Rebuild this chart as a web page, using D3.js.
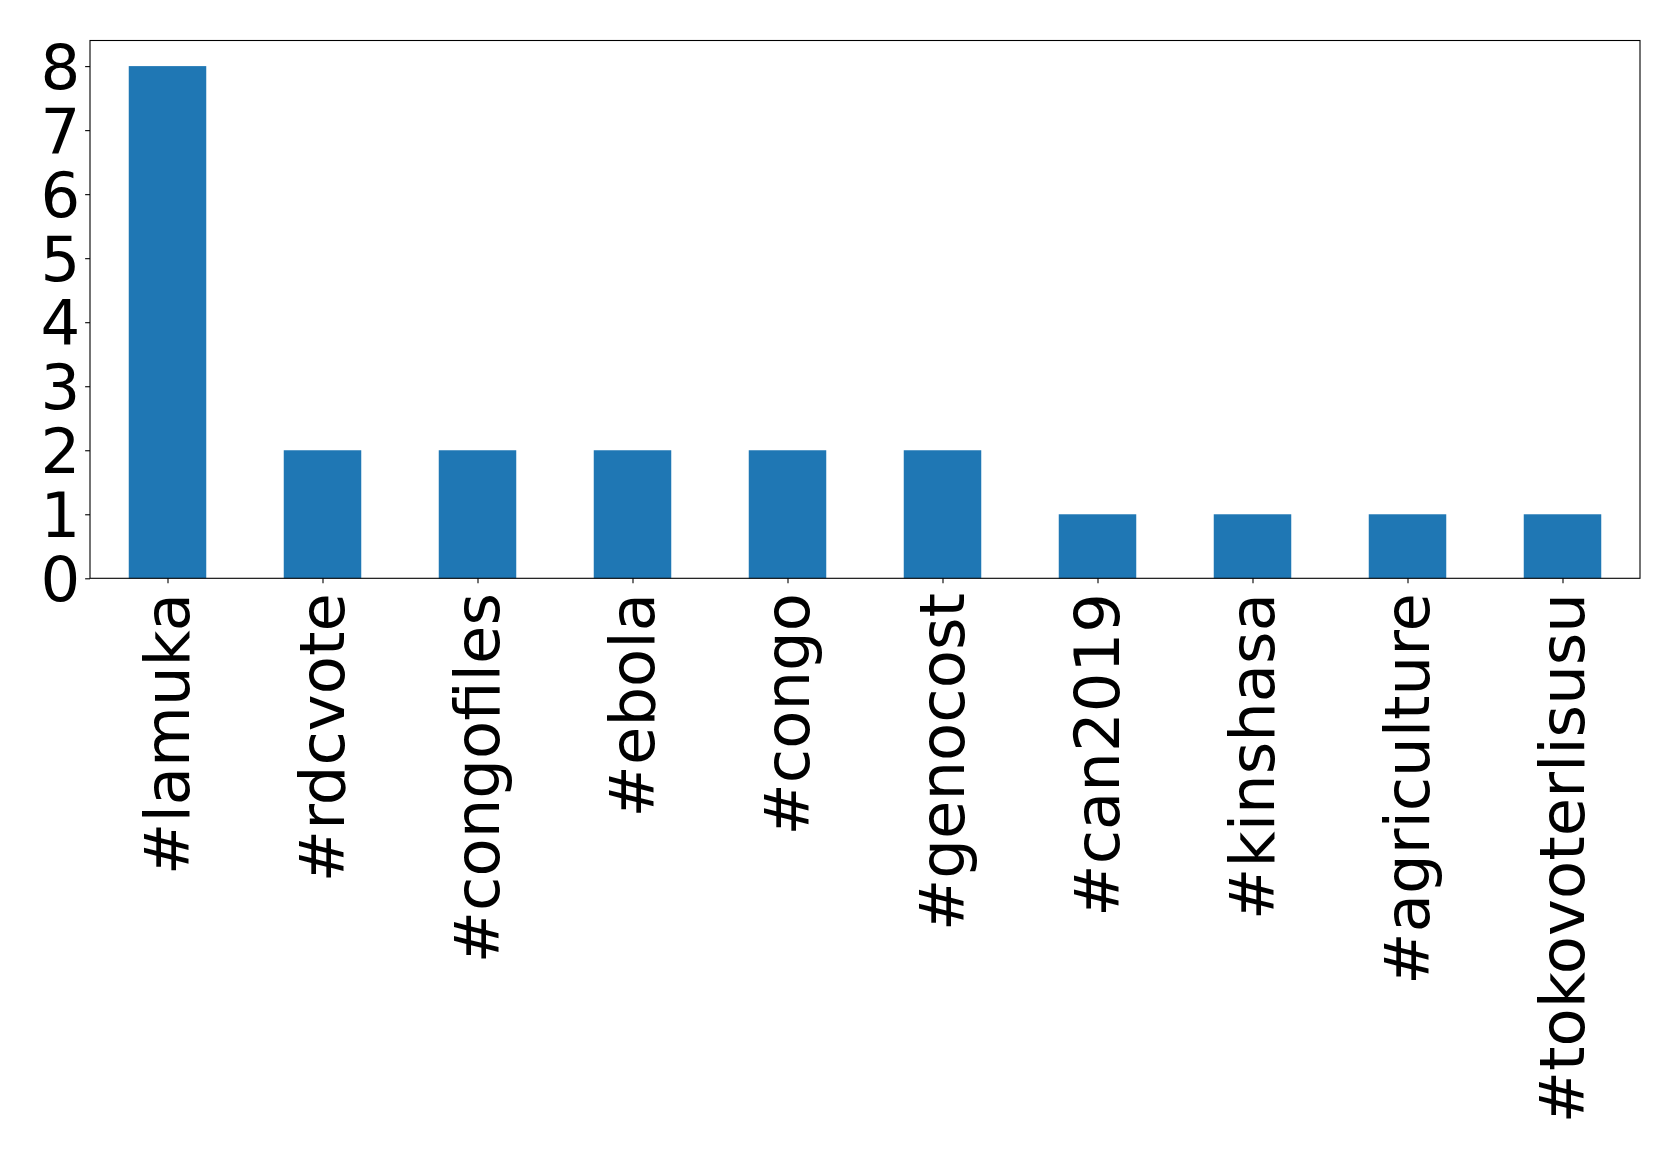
<!DOCTYPE html>
<html><head><meta charset="utf-8">
<script src="https://cdn.jsdelivr.net/npm/d3@7"></script>
<style>html,body{margin:0;padding:0;background:#fff;}</style>
</head><body>
<svg id="chart" width="1679" height="1158"></svg>
<script>
const categories = ["#lamuka","#rdcvote","#congofiles","#ebola","#congo","#genocost","#can2019","#kinshasa","#agriculture","#tokovoterlisusu"];
const counts = [8,2,2,2,2,2,1,1,1,1];
const yTicks = [0,1,2,3,4,5,6,7,8];

const W = 1679, H = 1158;
const m = {left: 90, right: 1640, top: 40.5, bottom: 578.3};
const fs = 62.5;
const tickLen = 4.86, pad = 4.86;

const svg = d3.select("#chart");
const n = categories.length;
const x = d3.scaleLinear().domain([-0.5, n - 0.5]).range([m.left, m.right]);
const y = d3.scaleLinear().domain([0, 8.4]).range([m.bottom, m.top]);

svg.append("g").selectAll("rect").data(counts).join("rect")
  .attr("x", (d,i) => x(i - 0.25))
  .attr("width", (d,i) => x(i + 0.25) - x(i - 0.25))
  .attr("y", d => y(d))
  .attr("height", d => y(0) - y(d))
  .attr("fill", "#1f77b4");

// frame
svg.append("rect").attr("x", m.left).attr("y", m.top)
  .attr("width", m.right - m.left).attr("height", m.bottom - m.top)
  .attr("fill", "none").attr("stroke", "#000").attr("stroke-width", 1.1);

// y axis
const yAxis = d3.axisLeft(y).tickValues(yTicks).tickFormat(d3.format("d"))
  .tickSize(tickLen).tickPadding(pad);
const gy = svg.append("g").attr("transform", `translate(${m.left},0)`).call(yAxis);
gy.select(".domain").remove();
gy.selectAll(".tick line").attr("stroke", "#000").attr("stroke-width", 1.1);
gy.selectAll(".tick text").attr("font-family", "DejaVu Sans").attr("font-size", fs)
  .attr("fill", "#000").attr("dy", "0.36em");

// x axis
const xAxis = d3.axisBottom(x).tickValues(d3.range(n)).tickFormat(i => categories[i])
  .tickSize(tickLen).tickPadding(pad);
const gx = svg.append("g").attr("transform", `translate(0,${m.bottom})`).call(xAxis);
gx.select(".domain").remove();
gx.selectAll(".tick line").attr("stroke", "#000").attr("stroke-width", 1.1);
gx.selectAll(".tick text").attr("font-family", "DejaVu Sans").attr("font-size", fs)
  .attr("fill", "#000")
  .attr("text-anchor", "end")
  .attr("transform", `translate(0,${tickLen + pad + 5}) rotate(-90)`)
  .attr("x", 0).attr("y", 0).attr("dy", "0.33em");
</script>
</body></html>
